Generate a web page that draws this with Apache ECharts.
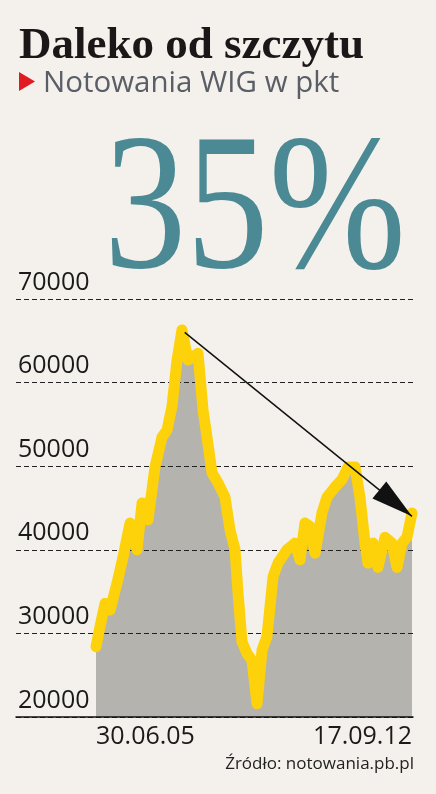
<!DOCTYPE html>
<html><head><meta charset="utf-8">
<script src="https://cdn.jsdelivr.net/npm/echarts@6/dist/echarts.min.js"></script>
<style>html,body{margin:0;padding:0;background:#f4f1ec;}#c{width:436px;height:794px;}</style>
</head><body><div id="c"></div>
<script>
const dates = ['2005-06-30','2005-08-02','2005-09-13','2005-10-25','2005-12-22','2006-02-10','2006-04-10','2006-06-07','2006-07-19','2006-09-07','2006-11-04','2007-01-02','2007-02-12','2007-03-26','2007-05-07','2007-06-17','2007-08-06','2007-10-29','2007-12-10','2008-01-12','2008-02-23','2008-04-13','2008-06-10','2008-07-22','2008-09-02','2008-09-27','2008-10-30','2008-12-11','2009-01-21','2009-03-04','2009-04-15','2009-05-26','2009-07-16','2009-08-26','2009-11-09','2010-01-15','2010-02-26','2010-04-08','2010-05-20','2010-07-01','2010-08-28','2010-10-09','2010-12-15','2011-02-11','2011-04-02','2011-05-31','2011-07-11','2011-08-22','2011-09-16','2011-10-28','2011-12-08','2012-02-05','2012-04-03','2012-05-15','2012-06-26','2012-08-06','2012-09-17'];
const values = [28400,30800,33600,32800,36000,39100,43200,40000,45600,43600,49900,53500,54300,57200,62700,66300,62700,63500,56700,53500,49200,48000,46300,42400,40000,34800,29000,27600,26800,21600,28000,29600,36800,38400,40000,40800,38800,43200,42800,39600,44400,46300,47500,48400,49900,49900,46300,40800,38400,40800,37900,41500,40800,37900,40800,41500,44400];
const xLabelDates = ['2005-06-30','2012-09-17'];
const yMin = 20000, yMax = 70000, yStep = 10000;
const arrowFrom = ['2007-07-10', 66000];
const arrowTo = ['2012-09-17', 44000];
const titleText = 'Daleko od szczytu';
const subtitleText = 'Notowania WIG w pkt';
const bigText = '35%';
const sourceText = 'Źródło: notowania.pb.pl';

const ts = d => echarts.time.parse(d).getTime();
const seriesData = dates.map((d, i) => [ts(d), values[i]]);

const chart = echarts.init(document.getElementById('c'), null, {renderer: 'canvas'});
const labelFont = {fontSize: 25, fontFamily: 'Open Sans', color: '#1a1a1a'};
chart.setOption({
  backgroundColor: '#f4f1ec',
  animation: false,
  grid: [
    {left: 16, right: 23, top: 299, bottom: 77},
    {left: 96, right: 24, top: 299, bottom: 77}
  ],
  xAxis: [
    {gridIndex: 0, type: 'value', min: 0, max: 1, z: 4,
     axisLine: {lineStyle: {color: '#111', width: 1.5}}, axisTick: {show: false},
     axisLabel: {show: false}, splitLine: {show: false}},
    {gridIndex: 1, type: 'time', min: ts(dates[0]), max: ts(dates[dates.length - 1]),
     axisLine: {show: false}, axisTick: {show: false}, splitLine: {show: false},
     axisLabel: Object.assign({customValues: xLabelDates.map(ts), formatter: '{dd}.{MM}.{yy}',
       alignMinLabel: 'left', alignMaxLabel: 'right', margin: 7, showMinLabel: true, showMaxLabel: true}, labelFont)}
  ],
  yAxis: [
    {gridIndex: 0, type: 'value', min: yMin, max: yMax, interval: yStep, z: 2,
     axisLine: {show: false}, axisTick: {show: false},
     axisLabel: Object.assign({inside: true, margin: 2, verticalAlign: 'bottom', padding: [0, 0, 4, 0],
       formatter: v => String(v)}, labelFont),
     splitLine: {lineStyle: {type: [5, 3], color: '#222', width: 1}}},
    {gridIndex: 1, type: 'value', min: yMin, max: yMax, show: false}
  ],
  series: [
    {type: 'line', xAxisIndex: 1, yAxisIndex: 1, data: seriesData, symbol: 'none', z: 1,
     lineStyle: {width: 0}, areaStyle: {color: '#b5b3ae', opacity: 1}},
    {type: 'line', xAxisIndex: 1, yAxisIndex: 1, data: seriesData, symbol: 'none', z: 3,
     lineStyle: {color: '#fdd20b', width: 11, cap: 'round', join: 'round'},
     markLine: {silent: true, symbol: ['none', 'triangle'], symbolSize: [22, 42],
       symbolOffset: [[0, 0], [0, 21]],
       label: {show: false}, lineStyle: {color: '#111', width: 1.5, type: 'solid'},
       itemStyle: {color: '#1b1b1b'},
       data: [[{coord: [ts(arrowFrom[0]), arrowFrom[1]]}, {coord: [ts(arrowTo[0]), arrowTo[1]]}]]}}
  ],
  graphic: [
    {type: 'text', x: 19, y: 46, style: {text: titleText, font: 'bold 45px "Liberation Serif"', fill: '#1b1718', verticalAlign: 'middle'}},
    {type: 'polygon', shape: {points: [[19, 72], [19, 91], [35, 81.5]]}, style: {fill: '#e01b22'}},
    {type: 'text', x: 43, y: 84, style: {text: subtitleText, font: '29.5px "Open Sans"', fill: '#5a5e66', verticalAlign: 'middle'}},
    {type: 'text', x: 104, y: 216, scaleX: 0.84, style: {text: bigText, font: '196px "Liberation Serif"', fill: '#4b8a94', verticalAlign: 'middle'}},
    {type: 'text', x: 414, y: 764, style: {text: sourceText, font: '17px "Open Sans"', fill: '#222', align: 'right', verticalAlign: 'middle'}}
  ]
});
</script>
</body></html>
